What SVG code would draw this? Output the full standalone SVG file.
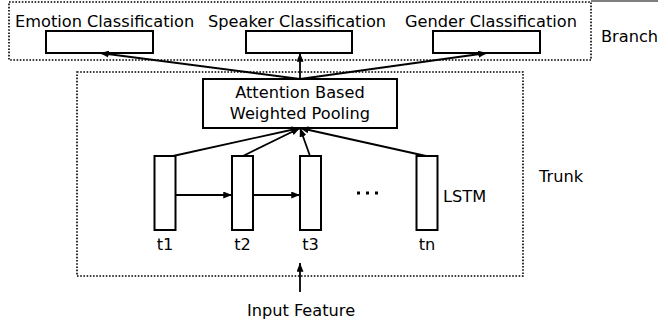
<svg xmlns="http://www.w3.org/2000/svg" width="668" height="320" viewBox="0 0 668 320">
<style>
text{font-family:"DejaVu Sans","Liberation Sans",sans-serif;font-size:16.2px;fill:#000}
.box{fill:#fff;stroke:#000;stroke-width:2}
.dot{fill:none;stroke:#000;stroke-width:1.6;stroke-dasharray:1.6 1.6}
.c{fill:none;stroke:#000;stroke-width:1.8}
.mid{text-anchor:middle}
</style>
<defs>
<marker id="ah" viewBox="0 0 10 8" refX="10" refY="4" markerWidth="9" markerHeight="7" markerUnits="userSpaceOnUse" orient="auto">
<path d="M0,0 L10,4 L0,8 Z" fill="#000"/>
</marker>
</defs>
<rect width="668" height="320" fill="#fff"/>
<line x1="591" y1="1" x2="658" y2="1" stroke="#000" stroke-width="1.2"/>
<g id="branch">
<rect class="dot" x="9" y="2" width="582" height="58"/>
<text x="601" y="42">Branch</text>
</g>
<g id="trunk">
<rect class="dot" x="77" y="72" width="446" height="204"/>
<text x="539" y="182">Trunk</text>
</g>
<g id="emotion">
<text x="15" y="27">Emotion Classification</text>
<rect class="box" x="46" y="31" width="107" height="22"/>
</g>
<g id="speaker">
<text x="208" y="27">Speaker Classification</text>
<rect class="box" x="246" y="31" width="106" height="22"/>
</g>
<g id="gender">
<text x="405" y="27">Gender Classification</text>
<rect class="box" x="433" y="31" width="107" height="22"/>
</g>
<g id="attention">
<rect class="box" x="203" y="79" width="194" height="49"/>
<text class="mid" x="300" y="98">Attention Based</text>
<text class="mid" x="300" y="119">Weighted Pooling</text>
</g>
<g id="t1">
<rect class="box" x="154.5" y="156" width="21" height="74"/>
<text class="mid" x="165" y="250">t1</text>
</g>
<g id="t2">
<rect class="box" x="232" y="156" width="21" height="74"/>
<text class="mid" x="242.5" y="250">t2</text>
</g>
<g id="t3">
<rect class="box" x="300" y="156" width="21" height="74"/>
<text class="mid" x="310.5" y="250">t3</text>
</g>
<g id="ellipsis">
<rect x="357" y="191.5" width="3" height="3" fill="#000"/>
<rect x="366" y="191.5" width="3" height="3" fill="#000"/>
<rect x="375" y="191.5" width="3" height="3" fill="#000"/>
</g>
<g id="tn">
<rect class="box" x="416.5" y="156" width="21" height="74"/>
<text class="mid" x="427" y="250">tn</text>
<text x="443" y="202">LSTM</text>
</g>
<g id="input">
<text class="mid" x="301" y="316">Input Feature</text>
</g>
<g id="connectors">
<line class="c" x1="300" y1="79" x2="100" y2="53" marker-end="url(#ah)"/>
<line class="c" x1="300" y1="79" x2="300" y2="53" marker-end="url(#ah)"/>
<line class="c" x1="300" y1="79" x2="487" y2="53" marker-end="url(#ah)"/>
<line class="c" x1="173" y1="156" x2="300" y2="128" marker-end="url(#ah)"/>
<line class="c" x1="243" y1="156" x2="300" y2="128" marker-end="url(#ah)"/>
<line class="c" x1="310" y1="156" x2="300" y2="128" marker-end="url(#ah)"/>
<line class="c" x1="426" y1="156" x2="300" y2="128" marker-end="url(#ah)"/>
<line class="c" x1="175.5" y1="195" x2="232" y2="195" marker-end="url(#ah)"/>
<line class="c" x1="253" y1="195" x2="300" y2="195" marker-end="url(#ah)"/>
<line class="c" x1="300" y1="292" x2="300" y2="263" marker-end="url(#ah)"/>
</g>
</svg>
